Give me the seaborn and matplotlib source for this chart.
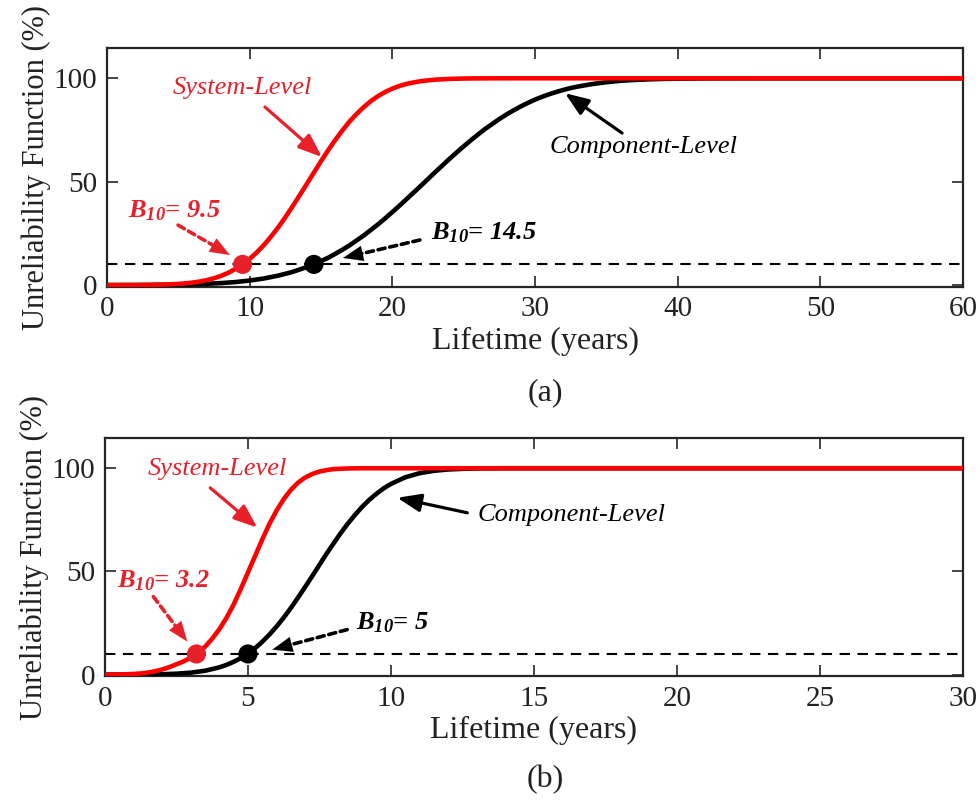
import matplotlib
matplotlib.use("Agg")
import matplotlib.pyplot as plt
import pandas as pd
import seaborn as sns

# ---------------- data ----------------
# Panel (a): lifetime (years) and unreliability (%)
a_sys_x = [0, 1, 2, 3, 4, 5, 5.5, 6, 6.5, 7, 7.5, 8, 8.5, 9, 9.5, 10, 10.5, 11, 11.5, 12, 12.5, 13, 13.5, 14,
           14.5, 15, 15.5, 16, 16.5, 17, 17.5, 18, 18.5, 19, 19.5, 20, 20.5, 21, 21.5, 22, 22.5, 23, 24, 25, 26,
           28, 30, 40, 50, 60]
a_sys_y = [0, 0, 0.03, 0.1, 0.25, 0.56, 0.83, 1.2, 1.71, 2.4, 3.3, 4.47, 5.94, 7.78, 10.0, 12.7, 15.8, 19.4, 23.5,
           27.9, 32.8, 38.0, 43.4, 48.9, 54.4, 59.9, 65.2, 70.2, 74.8, 79.1, 82.8, 86.1, 89.0, 91.4, 93.4, 95.0,
           96.3, 97.3, 98.0, 98.6, 99.0, 99.34, 99.7, 99.88, 99.96, 100, 100, 100, 100, 100]
a_comp_x = [0, 2, 4, 5, 6, 7, 8, 9, 10, 11, 12, 13, 14, 14.5, 15, 15.5, 16, 16.5, 17, 17.5, 18, 18.5, 19, 19.5,
            20, 20.5, 21, 21.5, 22, 22.5, 23, 23.5, 24, 24.5, 25, 25.5, 26, 26.5, 27, 27.5, 28, 28.5, 29, 29.5,
            30, 30.5, 31, 31.5, 32, 32.5, 33, 34, 35, 36, 37, 38, 39, 40, 42, 45, 50, 60]
a_comp_y = [0, 0.02, 0.13, 0.23, 0.38, 0.6, 0.96, 1.46, 2.19, 3.2, 4.56, 6.36, 8.68, 10.0, 11.57, 13.2, 15.1, 17.1,
            19.2, 21.6, 24.0, 26.7, 29.4, 32.3, 35.3, 38.4, 41.6, 44.8, 48.0, 51.3, 54.6, 57.8, 61.0, 64.1, 67.1,
            70.0, 72.8, 75.5, 77.9, 80.3, 82.5, 84.5, 86.4, 88.1, 89.7, 91.05, 92.3, 93.4, 94.4, 95.3, 96.0, 97.2,
            98.1, 98.8, 99.2, 99.5, 99.7, 99.8, 99.95, 100, 100, 100]
a_b10 = {"System-Level": 9.5, "Component-Level": 14.5}

# Panel (b)
b_sys_x = [0, 0.5, 1, 1.25, 1.5, 1.75, 2, 2.25, 2.5, 2.75, 3, 3.2, 3.5, 3.75, 4, 4.25, 4.5, 4.75, 5, 5.25, 5.5,
           5.75, 6, 6.25, 6.5, 6.75, 7, 7.25, 7.5, 7.75, 8, 8.5, 9, 10, 15, 20, 25, 30]
b_sys_y = [0, 0.05, 0.3, 0.55, 1.0, 1.6, 2.5, 3.6, 5.0, 6.4, 8.2, 10, 13.5, 17.4, 22, 27.5, 34, 41.5, 49.5, 57.5,
           65.5, 73, 79.5, 85, 89.5, 93, 95.5, 97.2, 98.4, 99.1, 99.6, 99.9, 100, 100, 100, 100, 100, 100]
b_comp_x = [0, 1, 1.5, 2, 2.5, 3, 3.5, 4, 4.25, 4.5, 4.75, 5, 5.25, 5.5, 5.75, 6, 6.25, 6.5, 6.75, 7, 7.25, 7.5,
            7.75, 8, 8.25, 8.5, 8.75, 9, 9.25, 9.5, 9.75, 10, 10.5, 11, 11.5, 12, 12.5, 13, 14, 20, 30]
b_comp_y = [0, 0.02, 0.07, 0.19, 0.44, 0.94, 1.87, 3.5, 4.7, 6.2, 8.0, 10.0, 12.8, 15.9, 19.4, 23.3, 27.6, 32.3,
            37.3, 42.5, 47.8, 53.2, 58.6, 63.7, 68.7, 73.3, 77.5, 81.4, 84.8, 87.7, 90.3, 92.4, 95.6, 97.6, 98.75,
            99.4, 99.7, 99.9, 100, 100, 100]
b_b10 = {"System-Level": 3.2, "Component-Level": 5}

threshold = 10
y_ticks = [0, 50, 100]
a_xticks = [0, 10, 20, 30, 40, 50, 60]
b_xticks = [0, 5, 10, 15, 20, 25, 30]

# ---------------- style ----------------
sns.set_style("ticks")
plt.rcParams["font.family"] = ["Liberation Serif", "DejaVu Serif"]
plt.rcParams["mathtext.fontset"] = "custom"
plt.rcParams["mathtext.it"] = "Liberation Serif:italic:bold"
plt.rcParams["mathtext.rm"] = "Liberation Serif:italic:bold"
plt.rcParams["mathtext.bf"] = "Liberation Serif:italic:bold"

RED = "#ff0000"
RED2 = "#e8202a"
BLACK = "#000000"
HEAD = "-|>,head_length=0.65,head_width=0.25"

fig = plt.figure(figsize=(9.8, 8.01), dpi=100)
ax_a = fig.add_axes([0.1092, 0.6423, 0.8735, 0.2974])
ax_b = fig.add_axes([0.1071, 0.1560, 0.8755, 0.2968])


def make_df(sx, sy, cx, cy):
    d1 = pd.DataFrame({"Lifetime": cx, "F": cy, "Level": "Component-Level"})
    d2 = pd.DataFrame({"Lifetime": sx, "F": sy, "Level": "System-Level"})
    return pd.concat([d1, d2], ignore_index=True)


def solid_arrow(ax, start, tip, color):
    ax.annotate("", xy=tip, xytext=start,
                arrowprops=dict(arrowstyle=HEAD, color=color, lw=2.3, mutation_scale=22,
                                shrinkA=0, shrinkB=0))


def dashed_arrow(ax, start, tip, color):
    # dashed shaft
    ax.annotate("", xy=tip, xytext=start,
                arrowprops=dict(arrowstyle="-", color=color, lw=2.6, ls=(0, (2.0, 1.3)),
                                shrinkA=0, shrinkB=8))
    # solid head
    near = (tip[0] + (start[0] - tip[0]) * 0.25, tip[1] + (start[1] - tip[1]) * 0.25)
    ax.annotate("", xy=tip, xytext=near,
                arrowprops=dict(arrowstyle=HEAD, color=color, lw=0.1, mutation_scale=22,
                                shrinkA=0, shrinkB=0))


def panel(ax, df, b10, xmax, xticks, ann):
    sns.lineplot(data=df, x="Lifetime", y="F", hue="Level",
                 hue_order=["Component-Level", "System-Level"],
                 palette={"Component-Level": BLACK, "System-Level": RED},
                 linewidth=3.3, legend=False, ax=ax, sort=True, zorder=3)
    for ln in ax.get_lines():
        ln.set_solid_joinstyle("round")
        ln.set_solid_capstyle("butt")
    ax.axhline(threshold, color="black", lw=1.5, ls=(0, (5, 3.6)), zorder=2)
    pts = pd.DataFrame({"x": [b10["System-Level"], b10["Component-Level"]],
                        "y": [threshold, threshold],
                        "Level": ["System-Level", "Component-Level"]})
    sns.scatterplot(data=pts, x="x", y="y", hue="Level",
                    palette={"Component-Level": BLACK, "System-Level": RED2},
                    s=190, edgecolor="none", legend=False, ax=ax, zorder=5)
    ax.set_xlim(0, xmax)
    ax.set_ylim(-0.7, 114.5)
    ax.set_xticks(xticks)
    ax.set_yticks(y_ticks)
    ax.tick_params(direction="in", length=8, width=1.2, top=True, right=True,
                   labelsize=21, pad=7, colors="#262626", labelcolor="#222222")
    for s in ax.spines.values():
        s.set_linewidth(1.6)
        s.set_color("#262626")
    ax.set_xlabel("Lifetime (years)", fontsize=23, labelpad=3, color="#222222")
    ax.set_ylabel("Unreliability Function (%)", fontsize=22, labelpad=2, color="#222222")

    (sl_txt, sl_from, sl_to, b1_txt, b1_from, b1_to, b1_label,
     b2_txt, b2_from, b2_to, b2_label, cl_txt, cl_from, cl_to) = ann
    ax.text(*sl_txt, "System-Level", color=RED2, fontsize=19, style="italic",
            ha="center", va="center")
    solid_arrow(ax, sl_from, sl_to, RED2)
    ax.text(*b1_txt, b1_label, color=RED2, fontsize=19, style="italic",
            fontweight="bold", ha="center", va="center")
    dashed_arrow(ax, b1_from, b1_to, RED2)
    ax.text(*b2_txt, b2_label, color=BLACK, fontsize=19, style="italic",
            fontweight="bold", ha="center", va="center")
    dashed_arrow(ax, b2_from, b2_to, BLACK)
    ax.text(*cl_txt, "Component-Level", color=BLACK, fontsize=19, style="italic",
            ha="center", va="center")
    solid_arrow(ax, cl_from, cl_to, BLACK)


df_a = make_df(a_sys_x, a_sys_y, a_comp_x, a_comp_y)
df_b = make_df(b_sys_x, b_sys_y, b_comp_x, b_comp_y)

ann_a = ((9.5, 95.3), (11.07, 86.1), (15.07, 61.9),
         (4.7, 35.8), (4.98, 29.0), (8.62, 14.5), r"$B_{10}$= 9.5",
         (26.4, 25.1), (21.93, 21.8), (16.54, 13.1), r"$B_{10}$= 14.5",
         (37.6, 66.7), (36.1, 73.5), (32.1, 92.8))
ann_b = ((3.93, 99.7), (3.68, 90.5), (5.33, 71.2),
         (2.04, 45.5), (1.69, 37.8), (2.88, 16.0), r"$B_{10}$= 3.2",
         (10.05, 25.2), (8.47, 21.8), (5.85, 12.1), r"$B_{10}$= 5",
         (16.3, 77.4), (12.67, 78.4), (10.22, 85.7))

panel(ax_a, df_a, a_b10, 60, a_xticks, ann_a)
panel(ax_b, df_b, b_b10, 30, b_xticks, ann_b)

fig.text(0.556, 1 - 393 / 801, "(a)", fontsize=23, ha="center", va="center", color="#222222")
fig.text(0.556, 1 - 780 / 801, "(b)", fontsize=23, ha="center", va="center", color="#222222")

fig.savefig("out.png", dpi=100)
